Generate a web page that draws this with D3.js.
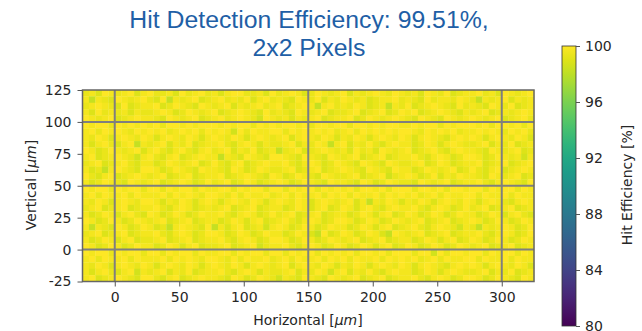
<!DOCTYPE html>
<html>
<head>
<meta charset="utf-8">
<script src="https://cdn.jsdelivr.net/npm/d3@7"></script>
<style>
  body { margin: 0; background: #fff; }
  svg text { font-family: "DejaVu Sans", sans-serif; }
</style>
</head>
<body>
<svg id="chart" width="642" height="331"></svg>
<script>
// Title and axis texts
const titleLines = ["Hit Detection Efficiency: 99.51%,", "2x2 Pixels"];
const xTicks = [0, 50, 100, 150, 200, 250, 300];
const yTicks = [-25, 0, 25, 50, 75, 100, 125];
const cbTicks = [80, 84, 88, 92, 96, 100];
const pixelEdgesX = [0, 150, 300];
const pixelEdgesY = [0, 50, 100];
const binSize = 5; // um

// Efficiency map, row by row from the top (y = 125 down to -25),
// 70 bins of 5 um from x = -25 to 325. Digit d means efficiency 100 - 0.35 * d (%).
const effRows = [
  "2130121031 0221302102 1310022130 2101320121 0312101201 2130120321 1021301210",
  "1512301210 2305121032 1021203102 1230120312 0121321102 1230211201 2512103121",
  "2101230321 1032012301 2103121021 0321015102 1201321512 0321012302 1230120321",
  "1302121312 2101320121 0321012302 1230121032 2103210320 1032101231 2103212101",
  "0121032101 1230121032 1021012401 2131210321 1032012101 2301230121 0121032102",
  "0100201010 1020010100 0101002010 1001020010 0200101001 1010020100 0102001020",
  "1020101201 0102101020 1014020110 0201010102 1020101010 0120101021 1010120102",
  "1201310120 1310120131 0120131012 1031012013 1201310120 1310123101 0131012013",
  "1310231051 2103120321 1023101312 2103120151 0312023101 1320131012 2103120321",
  "0132012103 1023102310 2103120321 5210321012 1302130121 0321023101 1230121032",
  "1032101241 0231032101 1512301230 0123012301 2103210321 1023101320 0132012141",
  "2103210231 1320121032 0231032101 1023101320 1230123012 2103201321 1032103210",
  "1325101230 0132012301 1230132012 2103210321 0123012301 1320121032 0231032101",
  "0231032101 2103210321 1032101230 1320123012 2103210421 0132031201 1230121032",
  "1320123012 1032101320 2103201321 0132012301 1230132012 2301210321 1023101230",
  "0100201002 0020100201 1002010020 0201002010 1020010200 0200102001 0020100201",
  "1020110201 1102010120 0120201102 1020110201 0201102010 1021020110 0201102011",
  "1201310120 0131201310 1310120131 0120131012 1031512013 1201310120 1310123101",
  "2103210321 1023101321 2103210321 1320131032 0131023101 1023101320 2103210321",
  "1320131023 0132013201 1023101320 2103210321 1320131032 0132013201 1320131023",
  "0132013201 2103210321 1320131032 1023101320 0132013201 2103210321 0132013201",
  "1512301320 1325101230 5131032141 0132013201 1320131032 1023101241 2512101320",
  "2103210321 1023101320 0132013201 1320135032 0132013501 2103210321 1023101320",
  "1320131032 2103210321 1023101320 0132013201 2103210321 1320131032 0132013201",
  "0132013201 1320131032 2103210421 1023101320 1320131032 0132013201 2103210321",
  "0100201002 0020100201 1002010020 0201002010 1020010200 0200402001 0020100201",
  "1020110201 1102010120 0120201102 1020110201 0201102010 1021020110 0201102011",
  "1201310120 1310120131 0120131012 1031012013 1201310120 1310123101 0131012013",
  "1310231041 2103120321 1023101312 2103120141 0312023101 1320131012 2103120321",
  "1032101230 0231032101 1230132012 4123012301 2103210321 1023101320 0132012301"
];

const svg = d3.select("#chart");
const textColor = "#262626";
const fontSize = "14px";

const x = d3.scaleLinear().domain([-25, 325]).range([82.5, 534]);
const y = d3.scaleLinear().domain([-25, 125]).range([281.5, 90]);
const color = d3.scaleSequential(d3.interpolateViridis).domain([80, 100]);

// build the cells
const cells = [];
effRows.forEach((row, r) => {
  row.replace(/ /g, "").split("").forEach((ch, c) => {
    cells.push({ x0: -25 + c * binSize, y1: 125 - r * binSize, eff: 100 - 0.35 * +ch });
  });
});

// Title
svg.append("g")
  .selectAll("text")
  .data(titleLines)
  .enter()
  .append("text")
  .attr("x", 309)
  .attr("y", (d, i) => 28 + i * 28)
  .attr("text-anchor", "middle")
  .style("font-family", "'Liberation Sans', Arial, sans-serif")
  .style("font-size", "24.8px")
  .attr("fill", "#1f5fa6")
  .text((d) => d);

// Heatmap
svg.append("g")
  .selectAll("rect")
  .data(cells)
  .enter()
  .append("rect")
  .attr("x", (d) => x(d.x0))
  .attr("y", (d) => y(d.y1))
  .attr("width", (d) => x(d.x0 + binSize) - x(d.x0) + 0.3)
  .attr("height", (d) => y(d.y1 - binSize) - y(d.y1) + 0.3)
  .attr("fill", (d) => color(d.eff));

// Pixel boundaries
const grid = svg.append("g").attr("stroke", "#7f7f7f").attr("stroke-width", 2);
grid.selectAll(".vx")
  .data(pixelEdgesX)
  .enter()
  .append("line")
  .attr("x1", (d) => x(d)).attr("x2", (d) => x(d))
  .attr("y1", y(125)).attr("y2", y(-25));
grid.selectAll(".hy")
  .data(pixelEdgesY)
  .enter()
  .append("line")
  .attr("x1", x(-25)).attr("x2", x(325))
  .attr("y1", (d) => y(d)).attr("y2", (d) => y(d));

// Frame
svg.append("rect")
  .attr("x", x(-25)).attr("y", y(125))
  .attr("width", x(325) - x(-25)).attr("height", y(-25) - y(125))
  .attr("fill", "none").attr("stroke", "#666").attr("stroke-width", 1.5);

// Axes (plain hyphen for negative numbers, like the reference)
const plain = (d) => String(d);
const xAxis = svg.append("g")
  .attr("transform", `translate(0,${y(-25)})`)
  .call(d3.axisBottom(x).tickValues(xTicks).tickFormat(plain).tickSize(5).tickPadding(6));
const yAxis = svg.append("g")
  .attr("transform", `translate(${x(-25)},0)`)
  .call(d3.axisLeft(y).tickValues(yTicks).tickFormat(plain).tickSize(5).tickPadding(6));
[xAxis, yAxis].forEach((ax) => {
  ax.select(".domain").remove();
  ax.selectAll("line").attr("stroke", "#555");
  ax.selectAll("text").style("font-size", fontSize).attr("fill", textColor)
    .style("font-family", "'DejaVu Sans', sans-serif");
});

svg.append("text")
  .attr("x", 308).attr("y", 325)
  .attr("text-anchor", "middle")
  .style("font-size", fontSize).attr("fill", textColor)
  .html('Horizontal [<tspan font-style="italic">μm</tspan>]');

svg.append("text")
  .attr("transform", "translate(36,185) rotate(-90)")
  .attr("text-anchor", "middle")
  .style("font-size", fontSize).attr("fill", textColor)
  .html('Vertical [<tspan font-style="italic">μm</tspan>]');

// Colorbar
const cbX = 562, cbW = 14;
const cbY = d3.scaleLinear().domain([80, 100]).range([326, 46]);
const defs = svg.append("defs");
const grad = defs.append("linearGradient")
  .attr("id", "cbgrad").attr("x1", 0).attr("y1", 1).attr("x2", 0).attr("y2", 0);
d3.range(0, 1.0001, 0.05).forEach((t) => {
  grad.append("stop").attr("offset", t).attr("stop-color", d3.interpolateViridis(t));
});
svg.append("rect")
  .attr("x", cbX).attr("y", cbY(100))
  .attr("width", cbW).attr("height", cbY(80) - cbY(100))
  .attr("fill", "url(#cbgrad)")
  .attr("stroke", "#333").attr("stroke-width", 0.8);

const cbAxis = svg.append("g")
  .attr("transform", `translate(${cbX + cbW},0)`)
  .call(d3.axisRight(cbY).tickValues(cbTicks).tickSize(4).tickPadding(5));
cbAxis.select(".domain").remove();
cbAxis.selectAll("line").attr("stroke", "#555");
cbAxis.selectAll("text").style("font-size", fontSize).attr("fill", textColor)
  .style("font-family", "'DejaVu Sans', sans-serif");

svg.append("text")
  .attr("transform", "translate(632,185) rotate(-90)")
  .attr("text-anchor", "middle")
  .style("font-size", fontSize).attr("fill", textColor)
  .text("Hit Efficiency [%]");
</script>
</body>
</html>
